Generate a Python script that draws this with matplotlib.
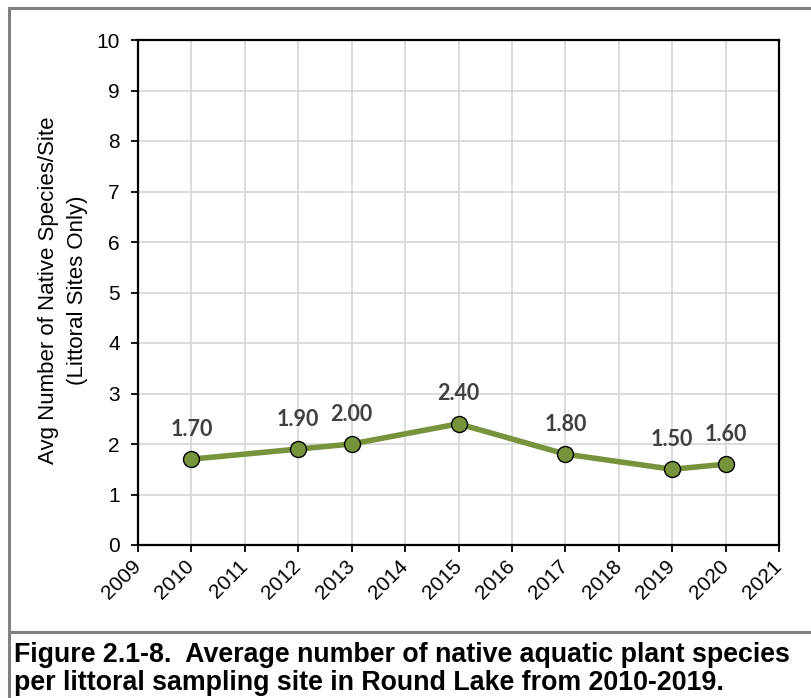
import matplotlib
matplotlib.use("Agg")
import matplotlib.pyplot as plt
from matplotlib.lines import Line2D

years = [2010, 2012, 2013, 2015, 2017, 2019, 2020]
values = [1.70, 1.90, 2.00, 2.40, 1.80, 1.50, 1.60]
x_ticks = list(range(2009, 2022))
y_ticks = list(range(0, 11))
y_label = "Avg Number of Native Species/Site\n(Littoral Sites Only)"
caption = ("Figure 2.1-8.  Average number of native aquatic plant species\n"
           "per littoral sampling site in Round Lake from 2010-2019.")

W, H = 812, 698
fig = plt.figure(figsize=(W / 100, H / 100), dpi=100)
plt.rcParams['font.family'] = ['Liberation Sans', 'DejaVu Sans']

left, right, top, bottom = 138, 779, 40, 545
ax = fig.add_axes([left / W, 1 - bottom / H, (right - left) / W, (bottom - top) / H])

green = '#77933C'
ax.plot(years, values, color=green, lw=4.0, marker='o', markersize=11.5,
        markerfacecolor=green, markeredgecolor='black', markeredgewidth=1.0,
        zorder=3, clip_on=False)
for x, v in zip(years, values):
    ax.annotate(f"{v:.2f}", (x, v), xytext=(0, 21.5), textcoords='offset points',
                ha='center', va='center', fontsize=15.5, fontweight='bold',
                color='#404040', family=['Lato', 'DejaVu Sans'])

ax.set_xlim(2009, 2021)
ax.set_ylim(0, 10)
ax.set_xticks(x_ticks)
ax.set_yticks(y_ticks)
ax.set_xticklabels([str(t) for t in x_ticks], rotation=45, ha='right',
                   rotation_mode='anchor', va='center')
ax.tick_params(axis='both', direction='out', length=5, width=1.3, color='black',
               labelsize=15)
ax.tick_params(axis='y', pad=8)
ax.tick_params(axis='x', pad=8)
ax.grid(True, color='#D9D9D9', lw=1.3, zorder=0)
ax.set_axisbelow(True)
for s in ax.spines.values():
    s.set_linewidth(1.6)
    s.set_color('black')

fig.text(63 / W, 1 - 290 / H, y_label, rotation=90, ha='center', va='center',
         fontsize=16, linespacing=1.55, multialignment='center')

fig.text(14 / W, 1 - 690 / H, caption, ha='left', va='baseline', fontsize=19.3,
         fontweight='bold', linespacing=1.08)

gray = '#808080'
lw = 2.2
fig.add_artist(Line2D([9 / W, 1], [1 - 8 / H, 1 - 8 / H], color=gray, lw=lw,
                      transform=fig.transFigure))
fig.add_artist(Line2D([9 / W, 9 / W], [0, 1 - 8 / H], color=gray, lw=lw,
                      transform=fig.transFigure))
fig.add_artist(Line2D([9 / W, 1], [1 - 632 / H, 1 - 632 / H], color=gray, lw=lw,
                      transform=fig.transFigure))

fig.savefig('out.png', dpi=100)
